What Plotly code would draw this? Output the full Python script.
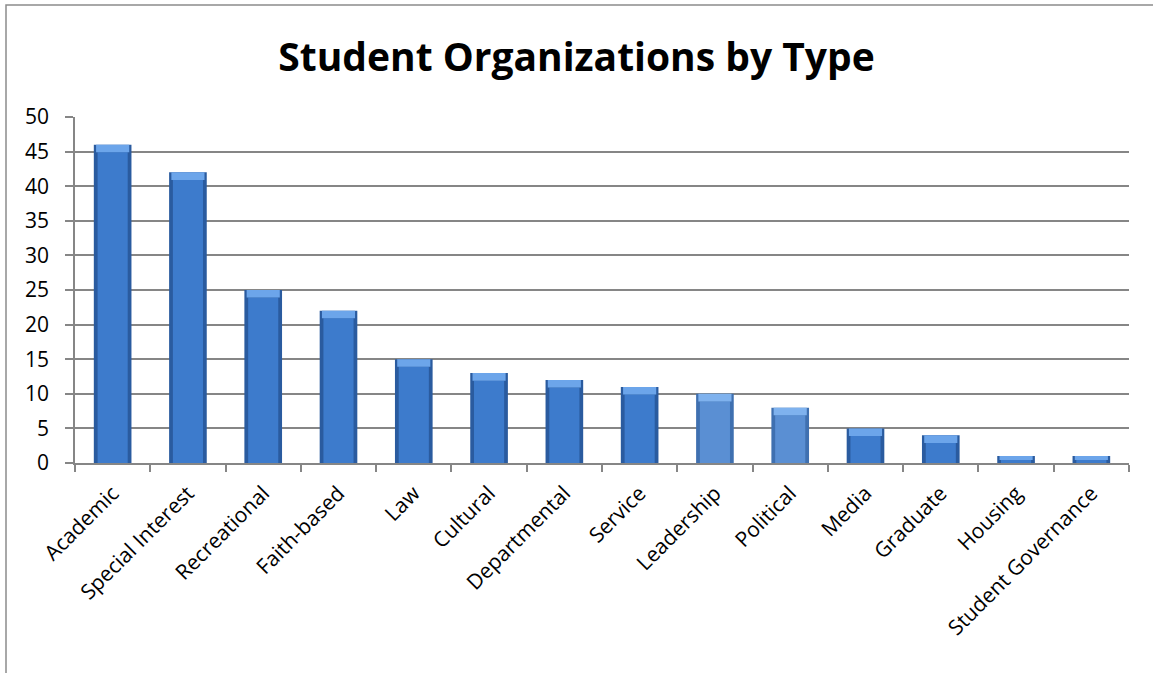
import plotly.graph_objects as go

categories = ["Academic", "Special Interest", "Recreational", "Faith-based", "Law",
              "Cultural", "Departmental", "Service", "Leadership", "Political",
              "Media", "Graduate", "Housing", "Student Governance"]
counts = [46, 42, 25, 22, 15, 13, 12, 11, 10, 8, 5, 4, 1, 1]
edge_colors = ["#2A5B9F"] * 8 + ["#3F70B0", "#3F70B0"] + ["#2A5B9F"] * 4
body_colors = ["#3D7BCC"] * 8 + ["#5A8FD3", "#5A8FD3"] + ["#3D7BCC"] * 4
top_colors = ["#6CA5EA"] * 8 + ["#7FB2EE", "#7FB2EE"] + ["#6CA5EA"] * 4
y_ticks = list(range(0, 51, 5))

# beveled look: dark outer bar, lighter inner column, pale cap on top
bevel = 1.1
inner_top = [max(v - bevel, v * 0.45) for v in counts]
cap_base = inner_top
cap_len = [v - b for v, b in zip(counts, cap_base)]

fig = go.Figure()
fig.add_trace(go.Bar(
    x=categories, y=counts, width=0.5,
    marker=dict(color=edge_colors, line=dict(width=0)),
    hoverinfo="x+y", showlegend=False,
))
fig.add_trace(go.Bar(
    x=categories, y=inner_top, width=0.4,
    marker=dict(color=body_colors, line=dict(width=0)),
    hoverinfo="skip", showlegend=False,
))
fig.add_trace(go.Bar(
    x=categories, y=cap_len, base=cap_base, width=0.44,
    marker=dict(color=top_colors, line=dict(width=0)),
    hoverinfo="skip", showlegend=False,
))

fig.update_layout(
    width=1153, height=673,
    margin=dict(l=75, r=24, t=117, b=210),
    paper_bgcolor="white", plot_bgcolor="white",
    barmode="overlay",
    font=dict(family="Open Sans, Lato, sans-serif", color="#000000"),
    title=dict(text="<b>Student Organizations by Type</b>", x=0.5, xanchor="center",
               y=0.915, yanchor="middle",
               font=dict(size=39, family="Open Sans, Lato, sans-serif", color="#000000")),
    xaxis=dict(
        showline=True, linecolor="#868686", linewidth=1.5,
        ticks="outside", ticklen=7, tickcolor="#868686", tickwidth=1.5,
        tickson="boundaries", tickangle=-45, ticklabelstandoff=8,
        tickfont=dict(size=21, family="Open Sans, Lato, sans-serif"),
        showgrid=False,
    ),
    yaxis=dict(
        range=[0, 50], tickvals=y_ticks,
        showline=True, linecolor="#868686", linewidth=1.5,
        ticks="outside", ticklen=8, tickcolor="#868686", tickwidth=1.5,
        ticklabelstandoff=12,
        showgrid=True, gridcolor="#868686", gridwidth=1.5,
        tickfont=dict(size=21, family="Open Sans, Lato, sans-serif"),
        zeroline=False,
    ),
    shapes=[dict(type="rect", xref="paper", yref="paper",
                 x0=(6 - 75) / 1054, x1=(1160 - 75) / 1054,
                 y0=(463 - 680) / 346, y1=(463 - 5) / 346,
                 line=dict(color="#8C8C8C", width=1.5), fillcolor="rgba(0,0,0,0)",
                 layer="below")],
)

fig.write_html("out.html")
